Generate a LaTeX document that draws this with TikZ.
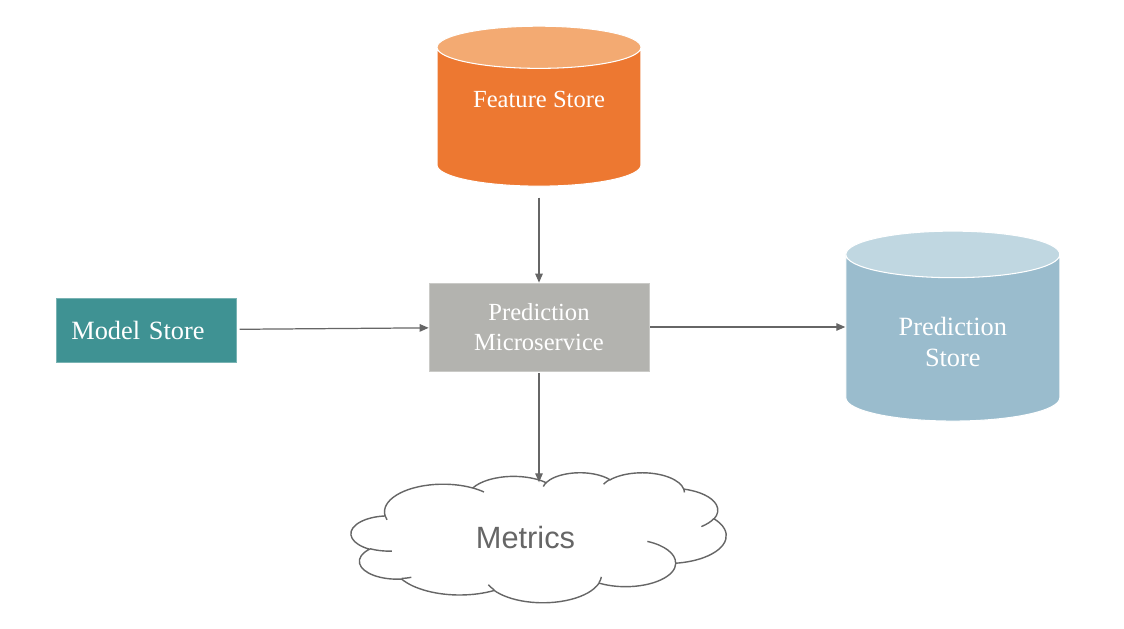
\documentclass[tikz,border=0pt]{standalone}
\usepackage{fontspec}
\setmainfont{Liberation Serif}
\setsansfont{Liberation Sans}
\usetikzlibrary{arrows.meta,positioning,shapes.geometric}
\definecolor{featorange}{HTML}{ED7831}
\definecolor{feattop}{HTML}{F3AA72}
\definecolor{predblue}{HTML}{9ABCCD}
\definecolor{predtop}{HTML}{C0D7E1}
\definecolor{modelteal}{HTML}{3F9293}
\definecolor{svcgray}{HTML}{B3B3AF}
\definecolor{linegray}{HTML}{666666}
% one puff of the cloud: x radius, y radius, start angle, sweep (angles measured on the ellipse)
\newcommand\puff[4]{arc[x radius=#1, y radius=#2,
  start angle={atan2(#1*sin(#3),#2*cos(#3))},
  delta angle={mod(atan2(#1*sin(#3+#4),#2*cos(#3+#4))-atan2(#1*sin(#3),#2*cos(#3))+720,360)}]}
\tikzset{
  >={Triangle[length=1.8mm,width=1.5mm]},
  store/.style={
    cylinder, shape border rotate=90, draw=white, line width=0.6pt,
    cylinder uses custom fill, align=center, text=white, inner sep=0pt
  },
  svc/.style={
    rectangle, fill=svcgray, draw=svcgray!70!white, align=center, text=white,
    font=\fontsize{14}{17}\selectfont,
    minimum width=4.4cm, minimum height=1.76cm
  },
  model/.style={
    rectangle, fill=modelteal, draw=modelteal!70!white, text=white,
    font=\fontsize{15}{18}\selectfont, align=left,
    inner xsep=0.3cm, text width=3.0cm, minimum height=1.28cm
  },
  sky/.style={
    rectangle, minimum width=7.5cm, minimum height=2.6cm, inner sep=0pt
  },
  skytext/.style={text=linegray, font=\sffamily\fontsize{17.5}{20}\selectfont},
  flow/.style={->, draw=linegray, line width=0.7pt},
}
\begin{document}
\begin{tikzpicture}[x=0.02cm, y=-0.02cm]
  \useasboundingbox (0,0) rectangle (1124,628);

  \node[svc] (micro) at (539,327) {Prediction\\Microservice};

  \node[store, cylinder body fill=featorange, cylinder end fill=feattop,
    aspect=0.32, minimum width=4.08cm, minimum height=3.2cm,
    font=\fontsize{14}{17}\selectfont, text depth=0.72cm,
    above=1.92cm of micro] (fstore) {Feature Store};
  \node[store, cylinder body fill=predblue, cylinder end fill=predtop,
    aspect=0.43, minimum width=4.28cm, minimum height=3.8cm,
    font=\fontsize{15}{18}\selectfont,
    right=3.92cm of micro, yshift=-0.22cm] (pstore) {\rule{0pt}{0.52cm}Prediction\\Store};
  \node[model, left=3.84cm of micro, yshift=-0.06cm] (mstore) {Model Store};
  \node[sky, below=2.02cm of micro,
    label={[skytext, xshift=-0.27cm]center:Metrics}] (metrics) {};

  % cloud outline round the metrics node
  \begin{scope}[shift={(metrics.north west)}, x=0.075cm, y=-0.026cm,
      draw=linegray, line width=0.8pt]
    \draw (9.028,33.264) \puff{15.632}{21.273}{-190.4875}{123.7805}
      \puff{12.345}{16.822}{-144.1024}{89.9452}
      \puff{10.104}{13.762}{-145.8079}{99.7230}
      \puff{11.243}{15.266}{-130.9861}{117.2417}
      \puff{12.345}{16.836}{-78.7089}{109.0269}
      \puff{15.683}{21.343}{-46.2673}{130.2690}
      \puff{13.391}{18.211}{0.6250}{114.0333}
      \puff{15.630}{21.331}{22.4516}{115.1726}
      \puff{17.870}{24.405}{66.2426}{75.7110}
      \puff{10.093}{13.699}{-274.9421}{146.7356}
      \puff{10.058}{13.762}{-246.8285}{152.5189} -- cycle;
    \draw (10.863,60.595) \puff{10.058}{13.762}{86.742}{26.4295}
      (16.037,80.785) \puff{10.093}{13.699}{73.6105}{11.4475}
      (38.144,90.486) \puff{15.630}{21.331}{137.6242}{14.0811}
      (66.729,80.442) \puff{15.630}{21.331}{6.4533}{15.9984}
      (79.002,53.134) \puff{13.391}{18.211}{-70.2924}{70.9174}
      (96.755,35.542) \puff{12.345}{16.836}{30.3180}{27.7515}
      (88.713,12.560) \puff{11.243}{15.266}{-13.7443}{14.8589}
      (67.310,9.148) \puff{11.243}{15.266}{-149.1815}{18.1954}
      (51.252,10.926) \puff{10.104}{13.762}{-163.4943}{17.6864}
      (32.407,12.019) \puff{15.632}{21.273}{-66.7070}{12.3194}
      (9.553,36.549) \puff{15.632}{21.273}{157.6544}{11.8582};
  \end{scope}

  \draw[flow, shorten <=2.2mm] (fstore) -- (micro);
  \draw[flow, shorten <=0.6mm] (mstore) -- (micro);
  \draw[flow, shorten <=0.2mm] (micro) -- (micro -| pstore.west);
  \draw[flow, shorten <=0.4mm, shorten >=-0.2cm] (micro) -- (metrics);
\end{tikzpicture}
\end{document}
